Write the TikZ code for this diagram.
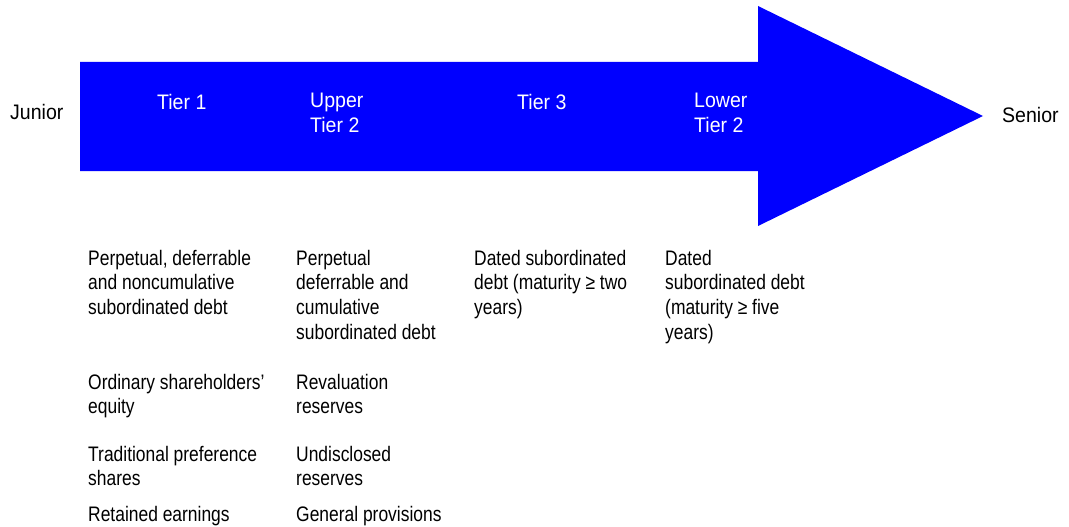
\documentclass[tikz,border=0pt]{standalone}
\usepackage{fontspec}
\setmainfont{Liberation Sans}
\newfontfamily\bodyf[FakeStretch=0.83]{Liberation Sans}
\newfontfamily\labf[FakeStretch=0.93]{Liberation Sans}
\definecolor{arrowblue}{RGB}{0,0,255}
\begin{document}
\begin{tikzpicture}[x=1pt,y=-1pt,
  txt/.style={anchor=north west,align=left,inner sep=0pt,yshift=17.15pt,execute at begin node=\strut},
  body/.style={txt,font=\bodyf\fontsize{21}{24.6}\selectfont},
  tierlab/.style={txt,text=white,font=\labf\fontsize{21}{24.5}\selectfont},
  endlab/.style={txt,font=\labf\fontsize{21}{24.5}\selectfont}]
\useasboundingbox (0,0) rectangle (1069,527);
% big arrow
\fill[arrowblue] (80,62) -- (758,62) -- (758,6) -- (983,116) -- (758,226) -- (758,171) -- (80,171) -- cycle;
% end labels
\node[endlab] (junior) at (10,119.5) {Junior};
\node[endlab] (senior) at (1002,122) {Senior};
% tier labels
\node[tierlab] (t1) at (157,109.5) {Tier 1};
\node[tierlab] (ut2) at (310,110.5) {Upper\\Tier 2};
\node[tierlab] (t3) at (517,109.5) {Tier 3};
\node[tierlab] (lt2) at (694,110.5) {Lower\\Tier 2};
% column 1
\node[body] (c1a) at (88,267) {Perpetual, deferrable\\and noncumulative\\subordinated debt};
\node[body] (c1b) at (88,391) {Ordinary shareholders’\\equity};
\node[body] (c1c) at (88,463) {Traditional preference\\shares};
\node[body] (c1d) at (88,521) {Retained earnings};
% column 2
\node[body] (c2a) at (296,267) {Perpetual\\deferrable and\\cumulative\\subordinated debt};
\node[body] (c2b) at (296,391) {Revaluation\\reserves};
\node[body] (c2c) at (296,463) {Undisclosed\\reserves};
\node[body] (c2d) at (296,521) {General provisions};
% column 3
\node[body] (c3a) at (474,267) {Dated subordinated\\debt (maturity ≥ two\\years)};
% column 4
\node[body] (c4a) at (665,267) {Dated\\subordinated debt\\(maturity ≥ five\\years)};
\end{tikzpicture}
\end{document}
